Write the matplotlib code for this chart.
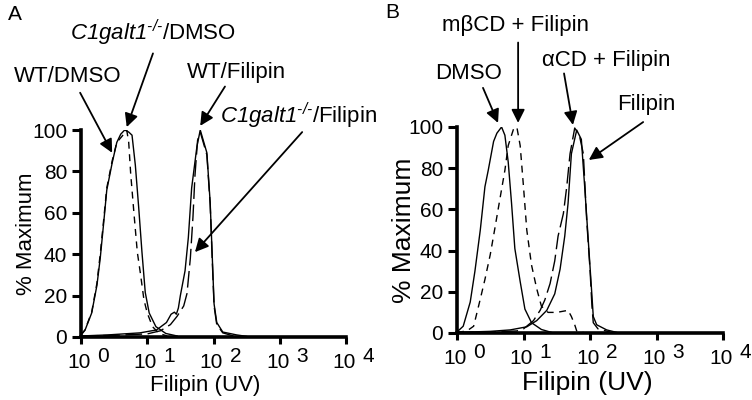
import matplotlib
matplotlib.use('Agg')
import matplotlib.pyplot as plt

plt.rcParams['font.family'] = ['Liberation Sans', 'DejaVu Sans']
plt.rcParams['mathtext.fontset'] = 'custom'
plt.rcParams['mathtext.rm'] = 'Liberation Sans:italic'
plt.rcParams['mathtext.it'] = 'Liberation Sans:italic'
plt.rcParams['mathtext.sf'] = 'Liberation Sans'

# ---- panel A data (Filipin intensity, % of maximum) ----
wt_dmso_x = [1.0, 1.15, 1.45, 1.74, 1.95, 2.19, 2.45, 2.95, 3.47, 3.98, 4.57,
             5.25, 5.89, 6.61, 7.41, 8.32, 9.33, 10.7, 13.5, 19.1, 28.2]
wt_dmso_y = [1, 3.3, 11.6, 25, 38, 54.5, 71, 84, 94, 98, 100,
             99, 97.5, 83, 63, 41, 21.5, 11.6, 5, 1.7, 0.5]

ko_dmso_x = [1.0, 1.15, 1.45, 1.74, 1.95, 2.19, 2.45, 2.95, 3.47, 4.17, 4.90,
             5.25, 5.62, 6.31, 7.08, 7.94, 8.91, 10, 12.0, 15.1, 20.0]
ko_dmso_y = [1, 3.5, 12, 26, 40, 56, 72, 85, 94, 97, 100,
             94, 79, 59.5, 41, 30, 18, 11.6, 5, 1.7, 0.5]

wt_fil_x = [1.0, 2.51, 7.76, 13.8, 19.5, 22.9, 25.7, 27.5, 29.5, 31.6, 37.2, 41.7,
            46.8, 56.2, 63.1, 79.4, 89.1, 95.5, 102, 112, 138, 224, 316]
wt_fil_y = [0.5, 1, 2, 3.4, 7, 11, 12, 11, 14, 20, 32, 48,
            72, 92, 100, 89, 65, 40, 16, 7, 2.4, 1, 0.3]

ko_fil_x = [1.0, 3.16, 10, 15.8, 22.4, 28.2, 35.5, 39.8, 44.7, 49.0, 52.5, 57.5,
            63.1, 79.4, 89.1, 95.5, 102, 112, 138, 200]
ko_fil_y = [0.5, 0.8, 1.5, 3, 6, 10, 15, 21, 38, 58, 78, 95,
            99, 88, 64, 38, 15, 6, 2, 0.5]

# ---- panel B data ----
dmso_x = [1.0, 1.24, 1.58, 1.86, 2.24, 2.63, 2.95, 3.55, 3.98, 4.68, 5.25, 5.89,
          6.61, 7.41, 8.91, 10.5, 13.2, 18.6, 26.3]
dmso_y = [0.5, 3.3, 15, 30, 50, 71, 79, 93, 97, 100, 96, 83,
          63, 41, 25, 11.6, 5, 1.7, 0.3]

mbcd_x = [1.0, 1.41, 1.78, 2.24, 2.63, 3.16, 3.72, 4.47, 5.25, 5.89, 7.08, 7.94, 8.91,
          10, 11.2, 13.2, 15.8, 18.6, 23.4, 31.6, 46.8, 52.5, 58.9, 63.1, 79.4]
mbcd_y = [0.3, 1, 3.3, 16.5, 26, 38, 51, 66, 79, 91, 99, 100, 91,
          71, 50, 33, 21.5, 13, 10, 10, 11, 8, 4, 1, 0.3]

acd_x = [1.0, 3.16, 7.94, 10, 14.1, 17.8, 20.9, 25.1, 29.5, 33.1, 39.8, 44.7, 50.1,
         58.9, 69.2, 79.4, 89.1, 100, 107, 112, 132, 200]
acd_y = [0.3, 0.5, 1, 2, 6, 11, 16, 24, 35, 47, 58, 71, 87,
         99.5, 96, 87, 55, 31, 13, 5, 2, 0.5]

fil_x = [1.0, 3.16, 6.31, 11.2, 15.8, 22.4, 29.5, 35.5, 41.7, 46.8, 52.5, 63.1,
         74.1, 83.2, 93.3, 105, 112, 126, 178, 251]
fil_y = [0.3, 0.8, 1.5, 3, 6, 11, 19, 31, 47, 63, 87, 98.5,
         94, 71, 47, 22, 8, 4, 1.5, 0.3]

decades = [1, 10, 100, 1000, 10000]
exponents = ['0', '1', '2', '3', '4']
yticks = [0, 20, 40, 60, 80, 100]

SHORT = (5.0, 4.0)
LONG = (12.0, 4.0)

fig = plt.figure(figsize=(7.52, 4.0), dpi=100)
axA = fig.add_axes([81/752, 1-337/400, 265/752, 207/400])
axB = fig.add_axes([457/752, 1-333/400, 266/752, 206/400])


def style_axis(ax, label_size, xlab_pos, ylab_pos):
    ax.set_xscale('log')
    ax.set_xlim(1, 10000)
    ax.set_ylim(0, 100)
    ax.spines['top'].set_visible(False)
    ax.spines['right'].set_visible(False)
    for s in ('left', 'bottom'):
        ax.spines[s].set_linewidth(2.6)
    ax.set_yticks(yticks)
    ax.set_xticks(decades)
    ax.xaxis.set_minor_locator(matplotlib.ticker.NullLocator())
    ax.set_xticklabels([])
    ax.tick_params(axis='y', length=6.5, width=2.2, labelsize=15, pad=3.5)
    ax.tick_params(axis='x', length=5, width=2.2)
    for d, e in zip(decades, exponents):
        ax.annotate('10', xy=(d, 0), xycoords=('data', 'axes fraction'),
                    xytext=(-2, -25), textcoords='offset pixels',
                    ha='center', va='center', fontsize=15, annotation_clip=False)
        ax.annotate(e, xy=(d, 0), xycoords=('data', 'axes fraction'),
                    xytext=(22, -20), textcoords='offset pixels',
                    ha='center', va='center', fontsize=15, annotation_clip=False)
    ax.set_xlabel('Filipin (UV)', fontsize=label_size)
    ax.xaxis.set_label_coords(*xlab_pos)
    ax.xaxis.label.set_va('center')
    ax.set_ylabel('% Maximum', fontsize=label_size)
    ax.yaxis.set_label_coords(*ylab_pos)
    ax.yaxis.label.set_va('center')


def arrow(ax, tip, tail):
    ax.annotate('', xy=tip, xytext=tail, annotation_clip=False,
                arrowprops=dict(arrowstyle='-|>', color='black', lw=1.3,
                                mutation_scale=20, shrinkA=0, shrinkB=0))


# panel A
axA.plot(wt_dmso_x, wt_dmso_y, color='black', lw=1.0)
axA.plot(ko_dmso_x, ko_dmso_y, color='black', lw=1.0, dashes=SHORT)
axA.plot(wt_fil_x, wt_fil_y, color='black', lw=1.0)
axA.plot(ko_fil_x, ko_fil_y, color='black', lw=1.0, dashes=LONG)
style_axis(axA, 16, (0.468, -0.232), (-0.204, 0.5))

axA.text(0.63, 126, 'WT/DMSO', fontsize=16, ha='center', va='center', clip_on=False)
arrow(axA, (2.95, 89), (0.97, 118))
axA.text(12.2, 147, r'$\mathrm{C1galt1}^{\text{-/-}}\mathsf{/DMSO}$', fontsize=16,
         ha='center', va='center', clip_on=False)
arrow(axA, (4.9, 101.4), (12.2, 137))
axA.text(225, 128, 'WT/Filipin', fontsize=16, ha='center', va='center', clip_on=False)
arrow(axA, (63, 102), (149, 121))
axA.text(126, 107, r'$\mathrm{C1galt1}^{\text{-/-}}\mathsf{/Filipin}$', fontsize=16,
         ha='left', va='center', clip_on=False)
arrow(axA, (52.5, 41), (2180, 99))

# panel B
axB.plot(dmso_x, dmso_y, color='black', lw=1.0)
axB.plot(mbcd_x, mbcd_y, color='black', lw=1.0, dashes=SHORT)
axB.plot(acd_x, acd_y, color='black', lw=1.0, dashes=LONG)
axB.plot(fil_x, fil_y, color='black', lw=1.0)
style_axis(axB, 19, (0.49, -0.243), (-0.201, 0.5))

axB.text(7.7, 149.5, 'mβCD + Filipin', fontsize=16, ha='center', va='center', clip_on=False)
arrow(axB, (8.3, 102), (8.3, 141))
axB.text(174, 132.5, 'αCD + Filipin', fontsize=16, ha='center', va='center', clip_on=False)
arrow(axB, (55.4, 101), (40.7, 126))
axB.text(1.51, 126, 'DMSO', fontsize=16, ha='center', va='center', clip_on=False)
arrow(axB, (4.14, 102), (2.46, 119))
axB.text(692, 110.7, 'Filipin', fontsize=16, ha='center', va='center', clip_on=False)
arrow(axB, (96, 84), (630, 102.4))

fig.text(8/752, 1-15/400, 'A', fontsize=15, ha='left', va='center')
fig.text(385/752, 1-12/400, 'B', fontsize=15, ha='left', va='center')

fig.savefig('out.png', dpi=100)
